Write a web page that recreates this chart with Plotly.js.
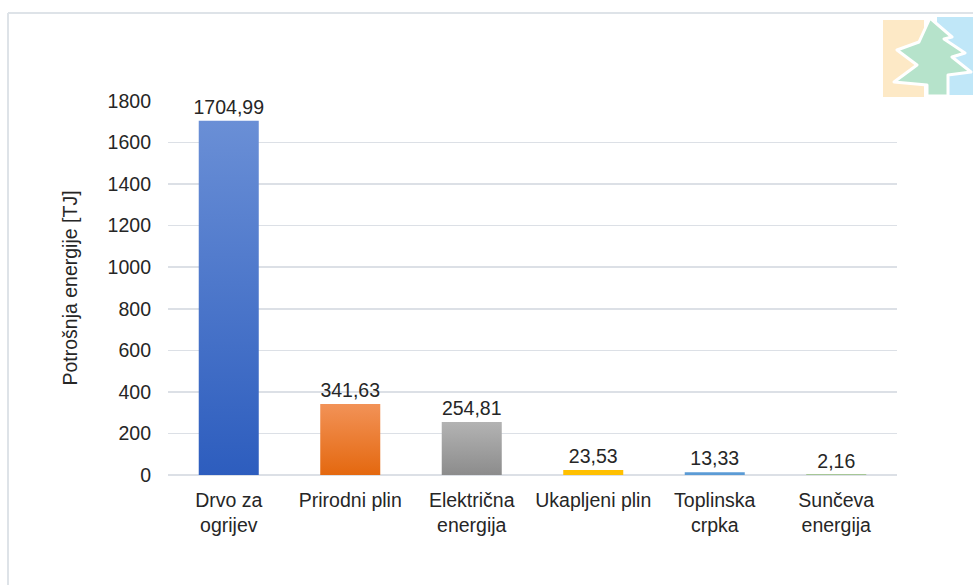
<!DOCTYPE html>
<html>
<head>
<meta charset="utf-8">
<script src="https://cdn.plot.ly/plotly-3.0.1.min.js"></script>
<style>
html,body{margin:0;padding:0;background:#fff;}
#chart{width:973px;height:585px;}
</style>
</head>
<body>
<div id="chart"></div>
<script>
const categories = ["Drvo za<br>ogrijev", "Prirodni plin", "Električna<br>energija", "Ukapljeni plin", "Toplinska<br>crpka", "Sunčeva<br>energija"];
const values = [1704.99, 341.63, 254.81, 23.53, 13.33, 2.16];
const valueLabels = ["1704,99", "341,63", "254,81", "23,53", "13,33", "2,16"];
const barColors = ["#4472C4", "#ED7D31", "#A5A5A5", "#FFC000", "#5B9BD5", "#70AD47"];
const gradTop = ["#6A8FD6", "#F29257", "#B3B3B3", "#FFC000", "#5B9BD5", "#70AD47"];
const gradBottom = ["#2D5DBE", "#E4680F", "#8C8C8C", "#FFC000", "#5B9BD5", "#70AD47"];
const yTicks = [0, 200, 400, 600, 800, 1000, 1200, 1400, 1600, 1800];
const yTitle = "Potrošnja energije [TJ]";

const logoSvg = '<svg xmlns="http://www.w3.org/2000/svg" width="91" height="80" viewBox="0 0 91 80">' +
  '<rect x="1" y="3" width="41" height="77" fill="#FDE9C6"/>' +
  '<rect x="55" y="0" width="40" height="78" fill="#C0E7F8"/>' +
  '<path d="M48,1 L70,20 L62,22 L83,36 L70,40 L89,55 L66,58 L66,79 L45,79 L45,68 L12,65 L35,48 L15,33 L37,25 Z" fill="#B6E3CB" stroke="#ffffff" stroke-width="3" stroke-linejoin="round"/>' +
  '</svg>';
const logoUri = 'data:image/svg+xml;base64,' + btoa(logoSvg);

const L = 168, R = 897, T = 101, B = 475;
const W = 973, H = 585;
const FS = 19.5;
const px = x => (x - L) / (R - L);
const py = y => (B - y) / (B - T);

const trace = {
  type: 'bar',
  x: categories,
  y: values,
  text: valueLabels,
  textposition: 'outside',
  constraintext: 'none',
  cliponaxis: false,
  textfont: {family: 'Liberation Sans, Arial, sans-serif', size: FS, color: '#262626'},
  marker: {color: barColors, line: {width: 0}},
  hoverinfo: 'x+y'
};

const layout = {
  width: W, height: H,
  margin: {l: L, r: W - R, t: T, b: H - B, pad: 0},
  paper_bgcolor: '#ffffff',
  plot_bgcolor: '#ffffff',
  showlegend: false,
  bargap: 0.506,
  font: {family: 'Liberation Sans, Arial, sans-serif', size: FS, color: '#262626'},
  xaxis: {
    type: 'category',
    showgrid: false,
    showline: false,
    zeroline: false,
    ticks: '',
    ticklabelstandoff: 11,
    tickfont: {size: FS, color: '#262626'}
  },
  yaxis: {
    range: [0, 1800],
    tickvals: yTicks,
    ticktext: yTicks.map(String),
    showgrid: true,
    gridcolor: '#DCE0E6',
    gridwidth: 1.5,
    zeroline: true,
    zerolinecolor: '#DCE0E6',
    zerolinewidth: 1.5,
    showline: false,
    ticks: '',
    ticklabelstandoff: 16,
    tickfont: {size: FS, color: '#262626'},
    title: {text: yTitle, font: {size: FS, color: '#262626'}, standoff: 24}
  },
  shapes: [
    {type: 'line', xref: 'paper', yref: 'paper', x0: px(8), x1: px(990), y0: py(13), y1: py(13), line: {color: '#DEE3E8', width: 2}},
    {type: 'line', xref: 'paper', yref: 'paper', x0: px(8), x1: px(8), y0: py(13), y1: py(600), line: {color: '#DEE3E8', width: 2}}
  ],
  images: [{
    source: logoUri,
    xref: 'paper', yref: 'paper',
    x: px(882), y: py(17),
    sizex: 91 / (R - L), sizey: 80 / (B - T),
    xanchor: 'left', yanchor: 'top',
    sizing: 'stretch',
    layer: 'above'
  }]
};

Plotly.newPlot('chart', [trace], layout, {displayModeBar: false, staticPlot: true}).then(function (gd) {
  const svg = gd.querySelector('svg.main-svg');
  const ns = 'http://www.w3.org/2000/svg';
  let defs = svg.querySelector('defs');
  if (!defs) { defs = document.createElementNS(ns, 'defs'); svg.insertBefore(defs, svg.firstChild); }
  const paths = gd.querySelectorAll('.barlayer .point path');
  paths.forEach(function (p, i) {
    const g = document.createElementNS(ns, 'linearGradient');
    g.setAttribute('id', 'bargrad' + i);
    g.setAttribute('x1', '0'); g.setAttribute('y1', '0');
    g.setAttribute('x2', '0'); g.setAttribute('y2', '1');
    const s1 = document.createElementNS(ns, 'stop');
    s1.setAttribute('offset', '0'); s1.setAttribute('stop-color', gradTop[i]);
    const s2 = document.createElementNS(ns, 'stop');
    s2.setAttribute('offset', '1'); s2.setAttribute('stop-color', gradBottom[i]);
    g.appendChild(s1); g.appendChild(s2);
    defs.appendChild(g);
    p.style.fill = 'url(#bargrad' + i + ')';
  });
});
</script>
</body>
</html>
